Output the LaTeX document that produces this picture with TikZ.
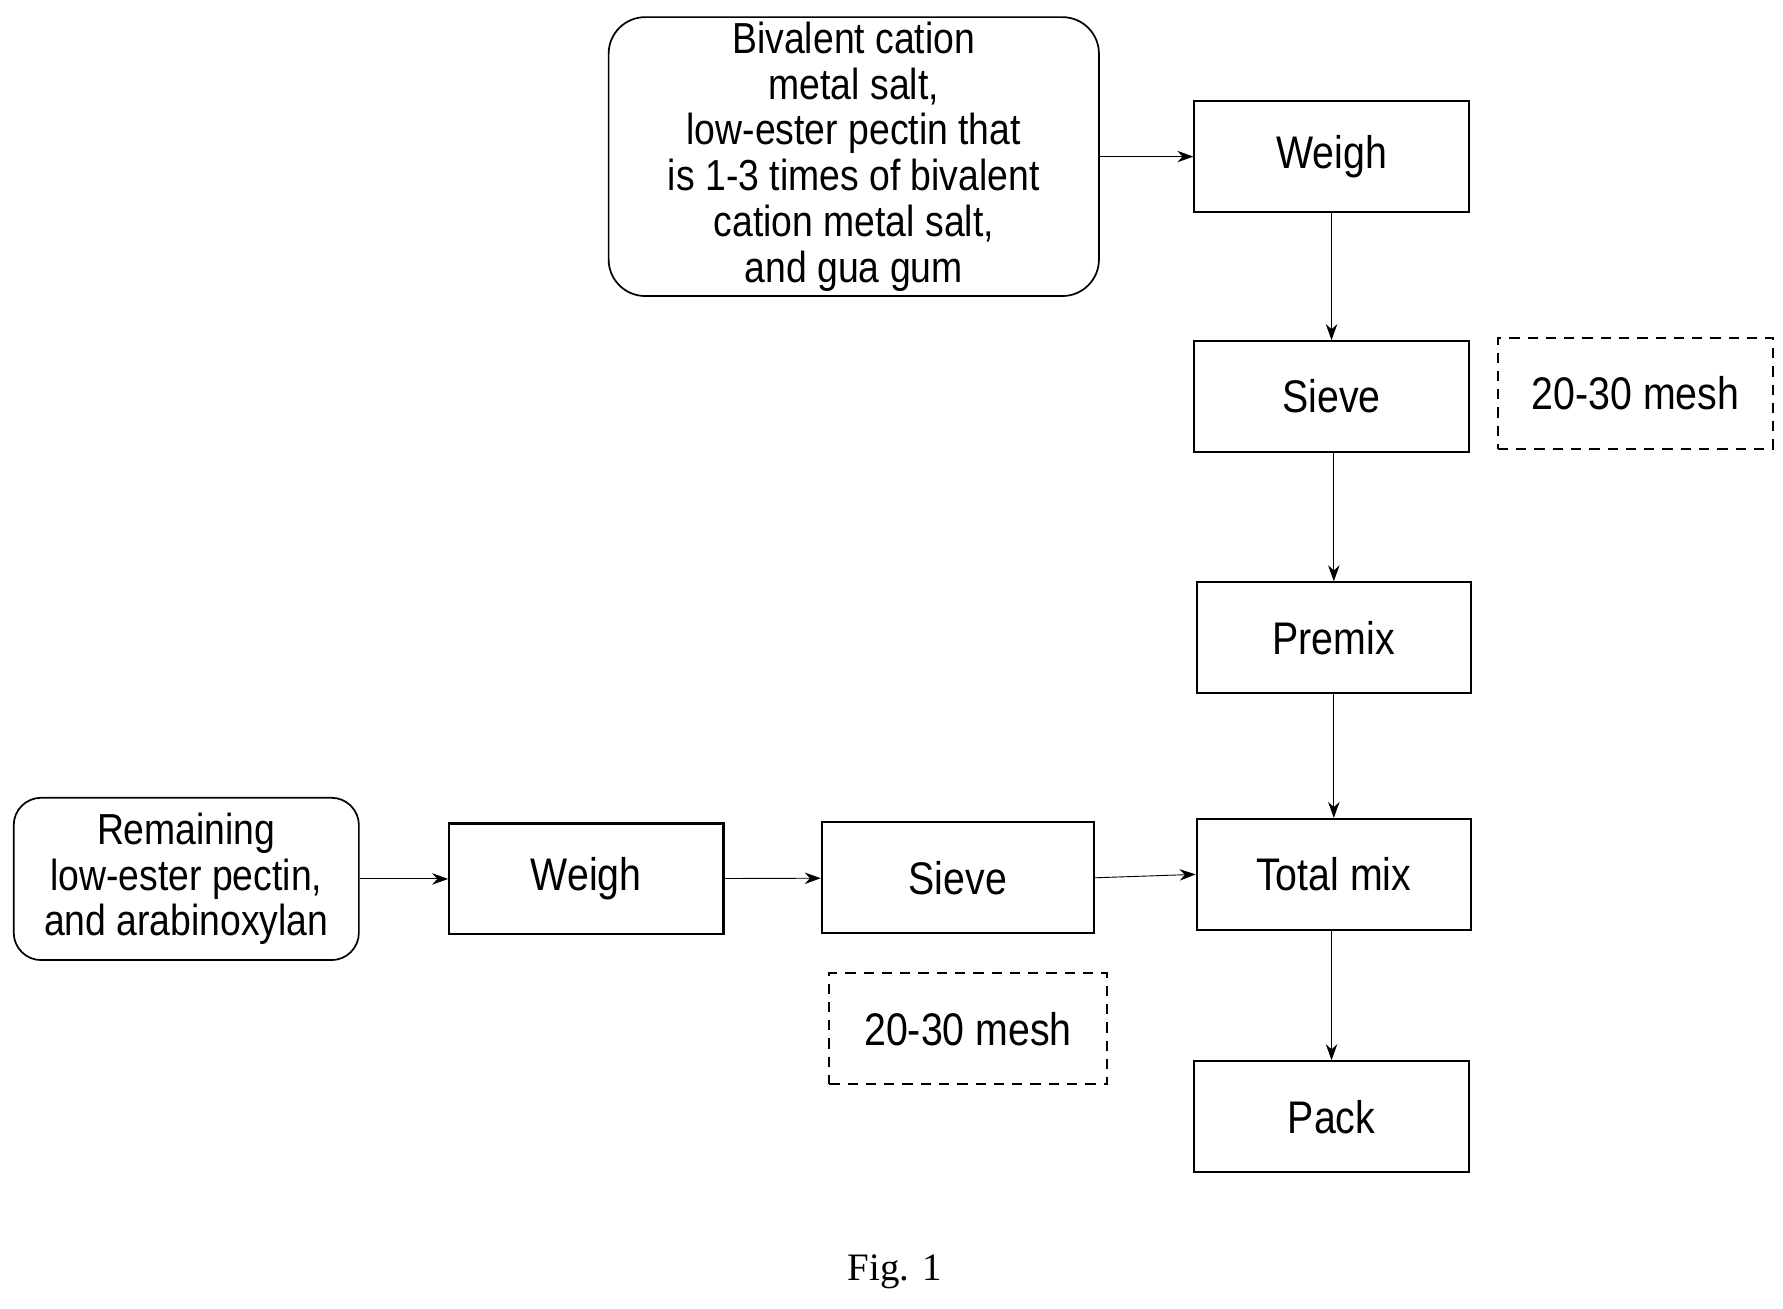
\documentclass[tikz,border=0pt]{standalone}
\usepackage{fontspec}
\setmainfont{Liberation Sans}[FakeStretch=0.86]
\newfontfamily\figfont{Liberation Serif}
\usetikzlibrary{arrows.meta}
\begin{document}
\begin{tikzpicture}[x=1pt,y=-1pt,
 box/.style={draw,line width=1.8pt,minimum width=240pt,minimum height=97pt,font=\fontsize{40}{40}\selectfont,inner sep=0pt},
 rbox/.style={draw,line width=1.5pt,rounded corners=32pt,align=center,inner sep=0pt,font=\fontsize{38}{40}\selectfont},
 dbox/.style={draw,line width=1.6pt,dash pattern=on 9pt off 7pt,minimum width=241pt,minimum height=97pt,font=\fontsize{40}{40}\selectfont,inner sep=0pt},
 arr/.style={-{Stealth[length=14pt,width=10pt]},line width=0.8pt}]
\useasboundingbox (0,0) rectangle (1560,1145);
\node[rbox,minimum width=429pt,minimum height=244pt] (src) at (747,137) {Bivalent cation\\metal salt,\\low-ester pectin that\\is 1-3 times of bivalent\\cation metal salt,\\and gua gum};
\node[box] (w1) at (1165,137) {Weigh};
\node[box] (s1) at (1165,347) {Sieve};
\node[dbox] (m1) at (1431,344) {20-30 mesh};
\node[box] (pm) at (1167,558) {Premix};
\node[box] (tm) at (1167,765) {Total mix};
\node[box] (pk) at (1165,977) {Pack};
\node[rbox,minimum width=302pt,minimum height=142pt,rounded corners=24pt] (rem) at (163,769) {Remaining\\low-ester pectin,\\and arabinoxylan};
\node[box] (w2) at (513,769) {Weigh};
\node[box,minimum width=238pt] (s2) at (838,768) {Sieve};
\node[dbox,minimum width=243pt] (m2) at (847,900) {20-30 mesh};
\node[font=\figfont\fontsize{34}{34}\selectfont] (fig) at (783,1113) {Fig. 1};
\draw[arr] (src.east) -- (w1.west);
\draw[arr] (w1) -- (s1);
\draw[arr] (s1.south -| pm) -- (pm);
\draw[arr] (pm) -- (tm);
\draw[arr] (tm.south -| pk) -- (pk);
\draw[arr] (rem) -- (w2);
\draw[arr] (w2) -- (s2);
\draw[arr] (s2.east) -- (tm.west);
\end{tikzpicture}
\end{document}
